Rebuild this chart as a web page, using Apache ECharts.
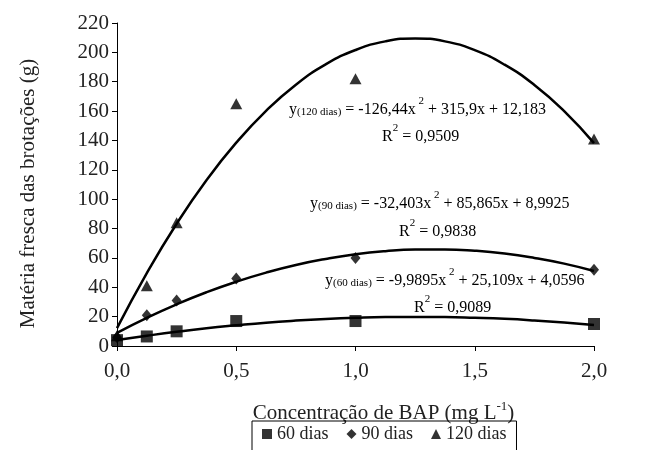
<!DOCTYPE html>
<html><head><meta charset="utf-8">
<script src="https://cdn.jsdelivr.net/npm/echarts@6/dist/echarts.min.js"></script>
<style>html,body{margin:0;padding:0;background:#fff}#c{width:666px;height:450px}</style>
</head><body><div id="c"></div>
<script>
// Observed data points
const xObs = [0, 0.125, 0.25, 0.5, 1.0, 2.0];
const d60 = [4, 6.5, 10, 17, 17, 15];
const d90 = [6, 21, 31, 46, 60, 52];
const d120 = [7, 41, 84, 165, 182, 141];
// Fitted curves
const xCurve = [0, 0.125, 0.25, 0.375, 0.5, 0.625, 0.75, 0.875, 1.0, 1.125, 1.25, 1.375, 1.5, 1.625, 1.75, 1.875, 2.0];
const c60 = [4.1, 7.0, 9.7, 12.1, 14.1, 15.9, 17.3, 18.4, 19.2, 19.7, 19.8, 19.7, 19.2, 18.5, 17.4, 16.0, 14.3];
const c90 = [9.0, 19.2, 28.4, 36.6, 43.8, 50.0, 55.2, 59.3, 62.5, 64.6, 65.7, 65.8, 64.9, 63.0, 60.0, 56.1, 51.1];
const c120 = [12.2, 49.7, 83.3, 112.9, 138.5, 160.2, 178.0, 191.8, 201.6, 207.5, 209.5, 207.5, 201.5, 191.6, 177.8, 160.0, 138.2];
const xTicks = ['0,0', '0,5', '1,0', '1,5', '2,0'];
const seriesNames = ['60 dias', '90 dias', '120 dias'];
const equations = [
  {sub: '(120 dias)', a: ' = -126,44x', b: ' + 315,9x + 12,183', r2: '0,9509'},
  {sub: '(90 dias)', a: ' = -32,403x', b: ' + 85,865x + 8,9925', r2: '0,9838'},
  {sub: '(60 dias)', a: ' = -9,9895x', b: ' + 25,109x + 4,0596', r2: '0,9089'}
];

const FONT = '"Liberation Serif", "Times New Roman", serif';
const pair = (xs, ys) => xs.map((x, i) => [x, ys[i]]);
const chart = echarts.init(document.getElementById('c'), null, {renderer: 'canvas'});

const rich = {
  t: {fontFamily: FONT, fontSize: 16, color: '#222', verticalAlign: 'bottom', lineHeight: 22},
  s: {fontFamily: FONT, fontSize: 11, color: '#222', verticalAlign: 'bottom', lineHeight: 20},
  p: {fontFamily: FONT, fontSize: 11, color: '#222', verticalAlign: 'top', lineHeight: 22}
};
const eqPos = [
  {x: 289, y: 107, rx: 420, ry: 134},
  {x: 310, y: 201, rx: 437, ry: 229},
  {x: 325, y: 278, rx: 452, ry: 305}
];
const graphics = [];
equations.forEach((e, i) => {
  const p = eqPos[i];
  graphics.push({type: 'text', left: p.x, top: p.y - 11, style: {
    text: '{t|y}{s|' + e.sub + '}{t|' + e.a + '}{p| 2}{t|' + e.b + '}', rich: rich}});
  graphics.push({type: 'text', left: p.rx - 38, top: p.ry - 11, style: {
    text: '{t|R}{p|2}{t| = ' + e.r2 + '}', rich: rich}});
});

const scatterCommon = {type: 'scatter', itemStyle: {color: '#000'}, z: 5};
chart.setOption({
  animation: false,
  backgroundColor: '#fff',
  grid: {left: 117, right: 72, top: 23, bottom: 104},
  legend: {
    data: seriesNames, top: 421, left: 252, width: 264,
    orient: 'horizontal', borderColor: '#000', borderWidth: 1,
    padding: [4, 10, 20, 10], itemGap: 18, itemWidth: 10, itemHeight: 10,
    textStyle: {fontFamily: FONT, fontSize: 18, color: '#222'}
  },
  xAxis: {
    type: 'value', min: 0, max: 2, interval: 0.5,
    axisLine: {lineStyle: {color: '#000', width: 1}},
    axisTick: {show: true, inside: false, length: 5, lineStyle: {color: '#000'}},
    splitLine: {show: false},
    axisLabel: {fontFamily: FONT, fontSize: 21, color: '#222', margin: 15,
      formatter: (v) => xTicks[Math.round(v / 0.5)]},
    name: '{a|Concentração de BAP (mg L}{s|-1}{a|)}', nameLocation: 'middle', nameGap: 54,
    nameTextStyle: {padding: [0, 0, 0, 56], rich: {
      a: {fontFamily: FONT, fontSize: 21, color: '#222', verticalAlign: 'bottom', lineHeight: 24},
      s: {fontFamily: FONT, fontSize: 13, color: '#222', verticalAlign: 'top', lineHeight: 24}
    }}
  },
  yAxis: {
    type: 'value', min: 0, max: 220, interval: 20,
    axisLine: {show: true, lineStyle: {color: '#000', width: 1}},
    axisTick: {show: true, inside: false, length: 5, lineStyle: {color: '#000'}},
    splitLine: {show: false},
    axisLabel: {fontFamily: FONT, fontSize: 21, color: '#222', margin: 8},
    name: 'Matéria fresca das brotações (g)', nameLocation: 'middle', nameGap: 78,
    nameTextStyle: {fontFamily: FONT, fontSize: 21, color: '#222', padding: [0, 18, 0, 0]}
  },
  graphic: graphics,
  series: [
    {type: 'line', name: 'c60', data: pair(xCurve, c60), smooth: true, symbol: 'none',
      lineStyle: {color: '#000', width: 2.5}, z: 3},
    {type: 'line', name: 'c90', data: pair(xCurve, c90), smooth: true, symbol: 'none',
      lineStyle: {color: '#000', width: 2.5}, z: 3},
    {type: 'line', name: 'c120', data: pair(xCurve, c120), smooth: true, symbol: 'none',
      lineStyle: {color: '#000', width: 2.5}, z: 3},
    Object.assign({}, scatterCommon, {name: seriesNames[0], data: pair(xObs, d60), symbol: 'rect', symbolSize: 12}),
    Object.assign({}, scatterCommon, {name: seriesNames[1], data: pair(xObs, d90), symbol: 'diamond', symbolSize: [10, 12]}),
    Object.assign({}, scatterCommon, {name: seriesNames[2], data: pair(xObs, d120), symbol: 'triangle', symbolSize: [12, 11]})
  ]
});
</script></body></html>
